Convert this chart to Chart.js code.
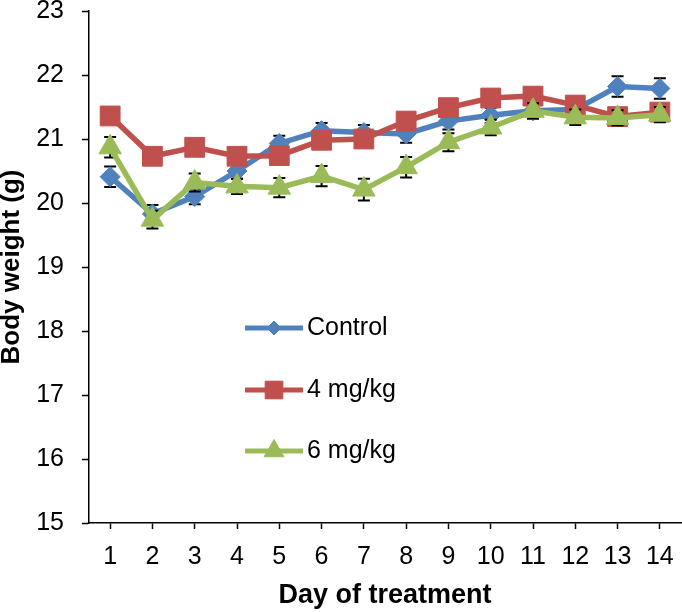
<!DOCTYPE html>
<html>
<head>
<meta charset="utf-8">
<script src="https://cdn.jsdelivr.net/npm/chart.js@4.4.1/dist/chart.umd.min.js"></script>
<style>
  html, body { margin: 0; padding: 0; background: #fff; }
  #wrap { width: 682px; height: 612px; }
</style>
</head>
<body>
<div id="wrap"><canvas id="chart" width="682" height="612"></canvas></div>
<script>
const FONT = '"Liberation Sans", Arial, sans-serif';

const days = ['1', '2', '3', '4', '5', '6', '7', '8', '9', '10', '11', '12', '13', '14'];

const control = [20.41, 19.83, 20.10, 20.50, 20.93, 21.13, 21.10, 21.08, 21.28, 21.37, 21.44, 21.46, 21.82, 21.79];
const dose4 = [21.36, 20.73, 20.87, 20.73, 20.74, 20.98, 21.00, 21.28, 21.49, 21.64, 21.67, 21.53, 21.35, 21.42];
const dose6 = [20.87, 19.74, 20.32, 20.26, 20.24, 20.42, 20.21, 20.56, 20.95, 21.18, 21.44, 21.34, 21.33, 21.38];

const controlSem = [0.16, 0.14, 0.12, 0.12, 0.12, 0.12, 0.12, 0.14, 0.13, 0.12, 0.12, 0.12, 0.16, 0.16];
const dose4Sem = [0.12, 0.12, 0.12, 0.12, 0.12, 0.12, 0.12, 0.12, 0.12, 0.12, 0.12, 0.12, 0.12, 0.12];
const dose6Sem = [0.16, 0.14, 0.14, 0.12, 0.15, 0.16, 0.17, 0.16, 0.14, 0.12, 0.12, 0.12, 0.12, 0.12];

const yTicks = [15, 16, 17, 18, 19, 20, 21, 22, 23];

const createDataset = (label, data, sem, color, style, radius, legendRadius, order) => ({
  label: label,
  data: data,
  sem: sem,
  order: order,
  borderColor: color,
  backgroundColor: color,
  borderWidth: 5.5,
  tension: 0,
  pointStyle: style,
  pointRadius: radius,
  pointHoverRadius: radius,
  pointBorderWidth: 1,
  pointBorderColor: color,
  pointBackgroundColor: color,
  legendRadius: legendRadius,
});

const noPadding = s => {
  s.paddingLeft = s.paddingRight = s.paddingTop = s.paddingBottom = 0;
};

// error bars go under each series' own line and markers
const errorBars = {
  id: 'errorBars',
  beforeDatasetDraw(chart, args) {
    const ds = chart.data.datasets[args.index];
    const y = chart.scales.y;
    const ctx = chart.ctx;
    ctx.save();
    ctx.strokeStyle = '#000';
    ctx.lineWidth = 2;
    args.meta.data.forEach((pt, i) => {
      const top = y.getPixelForValue(ds.data[i] + ds.sem[i]);
      const bot = y.getPixelForValue(ds.data[i] - ds.sem[i]);
      ctx.beginPath();
      ctx.moveTo(pt.x, top); ctx.lineTo(pt.x, bot);
      ctx.moveTo(pt.x - 6, top); ctx.lineTo(pt.x + 6, top);
      ctx.moveTo(pt.x - 6, bot); ctx.lineTo(pt.x + 6, bot);
      ctx.stroke();
    });
    ctx.restore();
  }
};

// legend sits inside the plot, lower left
const innerLegend = {
  id: 'innerLegend',
  afterDraw(chart) {
    const ctx = chart.ctx;
    const rows = [328, 390, 451];
    ctx.save();
    chart.data.datasets.forEach((ds, i) => {
      const yy = rows[i];
      ctx.strokeStyle = ds.borderColor;
      ctx.lineWidth = 5;
      ctx.beginPath();
      ctx.moveTo(245, yy); ctx.lineTo(303, yy);
      ctx.stroke();
      ctx.fillStyle = ds.backgroundColor;
      ctx.strokeStyle = ds.backgroundColor;
      ctx.lineWidth = 1;
      Chart.helpers.drawPoint(ctx, {pointStyle: ds.pointStyle, radius: ds.legendRadius, rotation: 0, borderWidth: 1}, 274, yy);
      ctx.fillStyle = '#000';
      ctx.font = '25px ' + FONT;
      ctx.textAlign = 'left';
      ctx.textBaseline = 'middle';
      ctx.fillText(ds.label, 307, yy);
    });
    ctx.restore();
  }
};

const config = {
  type: 'line',
  data: {
    labels: days,
    datasets: [
      createDataset('Control', control, controlSem, '#4F81BD', 'rectRot', 10, 7, 3),
      createDataset('4 mg/kg', dose4, dose4Sem, '#C0504D', 'rect', 14, 12.5, 2),
      createDataset('6 mg/kg', dose6, dose6Sem, '#9BBB59', 'triangle', 13, 11.5, 1),
    ]
  },
  options: {
    responsive: false,
    animation: false,
    layout: {autoPadding: false, padding: {top: 11, right: 1, left: 0, bottom: 0}},
    plugins: {
      legend: {display: false},
      tooltip: {enabled: false},
    },
    scales: {
      x: {
        type: 'category',
        offset: true,
        grid: {drawOnChartArea: false, offset: false, tickLength: 6, tickColor: '#000', tickWidth: 1.5},
        border: {color: '#000', width: 1.5},
        ticks: {font: {family: FONT, size: 25}, color: '#000', padding: 13, maxRotation: 0, autoSkip: false},
        title: {display: true, text: 'Day of treatment', color: '#000', font: {family: FONT, size: 27, weight: 'bold', lineHeight: 1.2}, padding: 0},
        afterFit: s => { s.height = 89; noPadding(s); },
      },
      y: {
        min: 15,
        max: 23,
        afterBuildTicks: s => { s.ticks = yTicks.map(v => ({value: v})); },
        grid: {drawOnChartArea: false, tickLength: 7, tickColor: '#000', tickWidth: 1.5},
        border: {color: '#000', width: 1.5},
        ticks: {font: {family: FONT, size: 25, lineHeight: 0.8}, color: '#000', padding: 18},
        title: {display: true, text: 'Body weight (g)', color: '#000', font: {family: FONT, size: 26, weight: 'bold', lineHeight: 0.9}, padding: 0},
        afterFit: s => { s.width = 89; noPadding(s); },
      },
    },
  },
  plugins: [errorBars, innerLegend],
};

new Chart(document.getElementById('chart').getContext('2d'), config);
</script>
</body>
</html>
